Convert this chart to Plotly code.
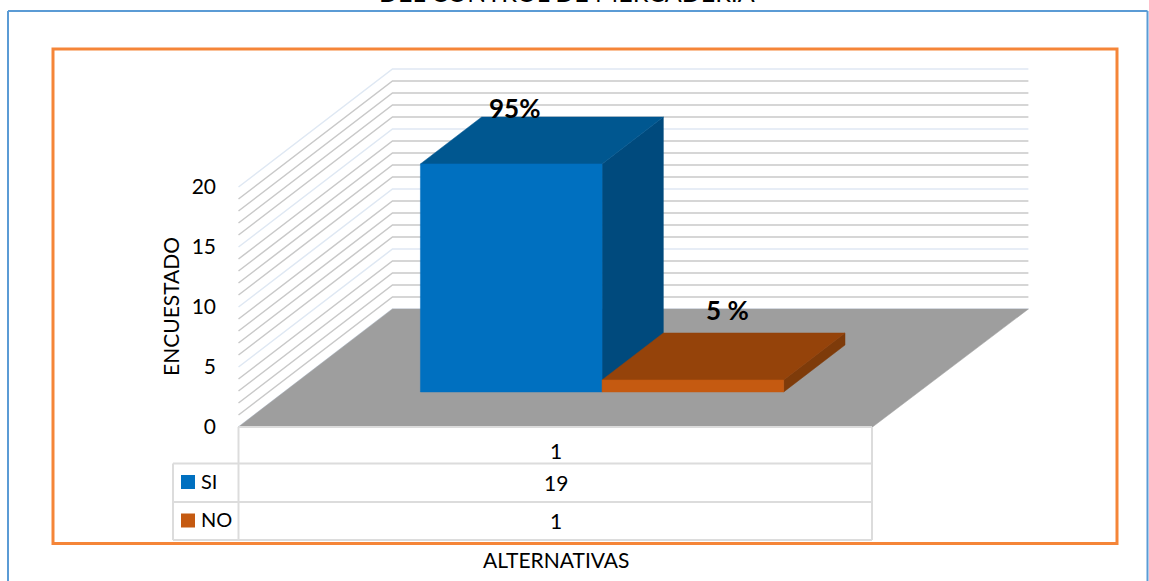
import plotly.graph_objects as go

W, H = 1149, 581
# data
SERIES = ["SI", "NO"]
VALUES = [19, 1]
CATEGORY = ["1"]
PCT_LABELS = ["95%", "5 %"]
Y_TICKS = [0, 5, 10, 15, 20]
GRID_VALUES = list(range(0, 21))
FRONT = ["#0070c0", "#c55a11"]
TOP = ["#005790", "#95430a"]
SIDE = ["#004a7d", "#7e3b0a"]

# geometry of the oblique projection, in pixels
X0, SPAN, Y0, PXU = 238.5, 634.0, 427.0, 12.0
DX, DY = 154.0, 118.0
T1, T2 = 0.297, 0.695
U0, BW = 0.2148, 0.2865

def proj(u, v, t):
    return u + t * DX / SPAN, v + t * DY / PXU

def poly(corners, color, name=None):
    pts = [proj(*c) for c in corners]
    pts.append(pts[0])
    return go.Scatter(x=[p[0] for p in pts], y=[p[1] for p in pts], mode="lines",
                      fill="toself", fillcolor=color, line=dict(color=color, width=0.5),
                      hoverinfo="skip", showlegend=False)

fig = go.Figure()
# gridlines on both walls
for v in GRID_VALUES:
    pts = [proj(0, v, 0), proj(0, v, 1), proj(1.003, v, 1)]
    fig.add_trace(go.Scatter(x=[p[0] for p in pts], y=[p[1] for p in pts], mode="lines",
                             line=dict(color="#dfe8f3" if v % 5 == 0 else "#c9c9c9", width=1.5),
                             hoverinfo="skip", showlegend=False))
# floor
fig.add_trace(poly([(0, 0, 0), (1, 0, 0), (1.003, 0, 1), (0, 0, 1)], "#9e9e9e"))
# bars
for i, val in enumerate(VALUES):
    a, b = U0 + i * BW, U0 + (i + 1) * BW
    fig.add_trace(poly([(b, 0, T1), (b, 0, T2), (b, val, T2), (b, val, T1)], SIDE[i]))
    fig.add_trace(poly([(a, val, T1), (b, val, T1), (b, val, T2), (a, val, T2)], TOP[i]))
    fig.add_trace(poly([(a, 0, T1), (b, 0, T1), (b, val, T1), (a, val, T1)], FRONT[i]))

def sx(px): return px / W
def sy(px): return 1 - px / H

shapes = []
def line(x0, y0, x1, y1, color="#dcdcdc", width=2):
    shapes.append(dict(type="line", xref="paper", yref="paper", x0=sx(x0), y0=sy(y0), x1=sx(x1), y1=sy(y1),
                       line=dict(color=color, width=width)))
# outer frames
for a in [(8, 11, 8, H + 2), (8, 11, 1147.5, 11), (1147.5, 11, 1147.5, H + 2)]:
    line(*a, color="#5b9bd5", width=2)
shapes.append(dict(type="rect", xref="paper", yref="paper", x0=sx(53), y0=sy(49), x1=sx(1117), y1=sy(543.5),
                   line=dict(color="#f58538", width=3), fillcolor="rgba(0,0,0,0)"))
# data table
line(238.5, 427, 872, 427)
line(238.5, 427, 238.5, 540)
line(872, 427, 872, 540)
line(173, 463.5, 872, 463.5)
line(173, 502, 872, 502)
line(173, 540, 872, 540)
line(173, 463.5, 173, 540)
# legend keys
for i, c in enumerate(FRONT):
    yc = 482 + i * 38.5
    shapes.append(dict(type="rect", xref="paper", yref="paper", x0=sx(181), x1=sx(195), y0=sy(yc - 7), y1=sy(yc + 7),
                       line=dict(width=0), fillcolor=c))

FONT = "Lato, Carlito, Calibri, sans-serif"
def note(x, y, text, size=21, bold=False, angle=0, xanchor="center"):
    return dict(xref="paper", yref="paper", x=sx(x), y=sy(y), text=f"<b>{text}</b>" if bold else text,
                showarrow=False, textangle=angle, xanchor=xanchor, yanchor="middle",
                font=dict(family=FONT, size=size, color="#000000"))

annotations = [
    note(567, -8, "DEL CONTROL DE MERCADERIA", size=25),
    note(170, 307, "ENCUESTADO", angle=-90),
    note(556, 559, "ALTERNATIVAS"),
    note(556, 450, CATEGORY[0]),
    note(556, 482, str(VALUES[0])),
    note(556, 520, str(VALUES[1])),
    note(199, 481, SERIES[0], size=20, xanchor="left"),
    note(199, 519, SERIES[1], size=20, xanchor="left"),
    note(514, 108, PCT_LABELS[0], size=26, bold=True),
    note(727, 310, PCT_LABELS[1], size=26, bold=True),
]

fig.update_layout(
    width=W, height=H, margin=dict(l=0, r=0, t=0, b=0), paper_bgcolor="white", plot_bgcolor="white",
    showlegend=False, shapes=shapes, annotations=annotations,
    font=dict(family=FONT, size=20, color="#000000"),
    xaxis=dict(range=[-X0 / SPAN, (W - X0) / SPAN], visible=False, domain=[0, 1]),
    yaxis=dict(range=[(Y0 - H) / PXU, Y0 / PXU], domain=[0, 1], anchor="free", position=216 / W,
               tickmode="array", tickvals=Y_TICKS, ticks="", showgrid=False, zeroline=False,
               showline=False, tickfont=dict(family=FONT, size=21, color="#000000")),
)
fig.write_html("out.html", config=dict(displayModeBar=False),
               post_script="document.body.style.margin='0';document.documentElement.style.overflow='hidden';")
